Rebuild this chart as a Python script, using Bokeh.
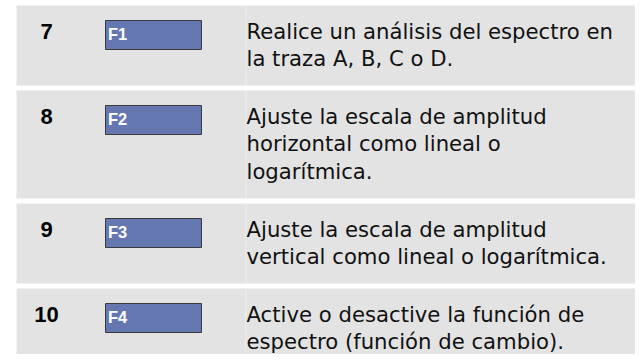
from bokeh.plotting import figure
from bokeh.models import ColumnDataSource, Range1d
from bokeh.core.properties import value
from bokeh.embed import file_html
from bokeh.resources import INLINE

# ---- table content ----
step_numbers = ["7", "8", "9", "10"]
key_labels = ["F1", "F2", "F3", "F4"]
descriptions = [
    ["Realice un análisis del espectro en", "la traza A, B, C o D."],
    ["Ajuste la escala de amplitud", "horizontal como lineal o", "logarítmica."],
    ["Ajuste la escala de amplitud", "vertical como lineal o logarítmica."],
    ["Active o desactive la función de", "espectro (función de cambio)."],
]

# ---- layout (pixel coordinates, y downwards) ----
W, H = 635, 354
first_top = 5
row_gap = 5
line_step = 27.8
row_pad = 24
table_left, table_right = 16, 640
divider_x = 245.5
num_x = 46
key_left, key_right = 105, 201
desc_x = 246
BASE_SHIFT = 0.4  # renderer places the alphabetic baseline ~0.4em low

num_size, key_size, desc_size = 22, 16.5, 21.2

row_top, row_bottom = [], []
t = first_top
for lines in descriptions:
    h = row_pad + 28 * len(lines)
    row_top.append(t)
    row_bottom.append(t + h)
    t += h + row_gap

p = figure(width=W, height=H, x_range=Range1d(0, W), y_range=Range1d(H, 0),
           output_backend="svg", toolbar_location=None, x_axis_type=None, y_axis_type=None,
           min_border=0, outline_line_color=None, background_fill_color="white",
           border_fill_color="white")
p.grid.visible = False

# row backgrounds
p.quad(left=[table_left] * 4, right=[table_right] * 4, top=row_top, bottom=row_bottom,
       fill_color="#e3e3e3", line_color=None)
# column divider
p.segment(x0=[divider_x] * 4, x1=[divider_x] * 4, y0=row_top, y1=row_bottom,
          line_color="#eeeeee", line_width=1)

# key buttons
btn_top = [r + 15 for r in row_top]
btn_bot = [r + 44 for r in row_top]
p.quad(left=[key_left] * 4, right=[key_right] * 4, top=btn_top, bottom=btn_bot,
       fill_color="#6477b1", line_color="#3a3a3a", line_width=1)
p.text(x=[key_left + 2.5] * 4, y=[r + 35.5 - BASE_SHIFT * key_size for r in row_top],
       text=key_labels,
       text_font=value("Liberation Sans"), text_font_style="bold",
       text_font_size=f"{key_size}px",
       text_color="white", text_baseline="alphabetic", text_align="left")

# step numbers
p.text(x=[num_x] * 4, y=[r + 34.3 - BASE_SHIFT * num_size for r in row_top],
       text=step_numbers,
       text_font=value("Liberation Sans"), text_font_style="bold",
       text_font_size=f"{num_size}px",
       text_color="#000000", text_baseline="alphabetic", text_align="center")

# descriptions
dx, dy, dt = [], [], []
for r, lines in zip(row_top, descriptions):
    for i, line in enumerate(lines):
        dx.append(desc_x)
        dy.append(r + 34 + line_step * i - BASE_SHIFT * desc_size)
        dt.append(line)
src = ColumnDataSource(dict(x=dx, y=dy, text=dt))
p.text(x="x", y="y", text="text", source=src,
       text_font=value("DejaVu Sans"), text_font_size=f"{desc_size}px",
       text_color="#111111", text_baseline="alphabetic", text_align="left")

open("out.html", "w").write(file_html(p, INLINE))
